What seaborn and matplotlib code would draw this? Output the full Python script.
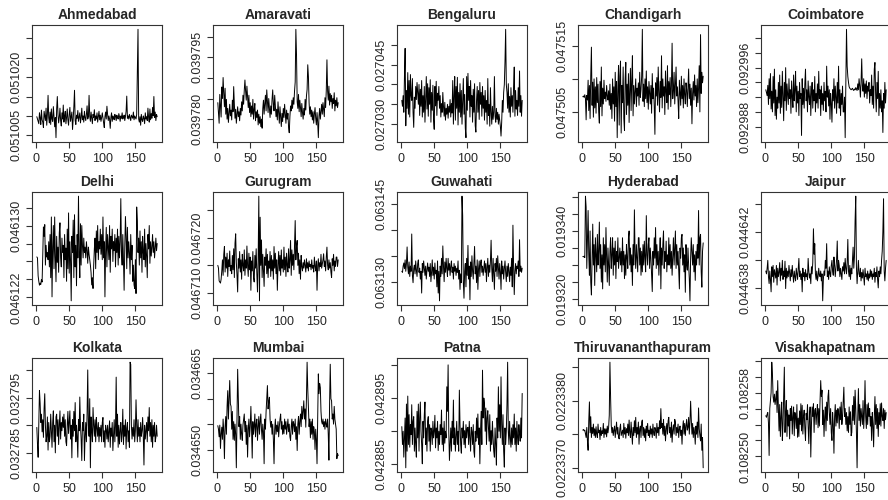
import numpy as np
import matplotlib.pyplot as plt
import seaborn as sns

# daily series per city (values in small units above a base)
ahmedabad = 0.051 + 1e-7 * np.array([
    98, 92, 85, 80, 108, 95, 78, 115, 90, 84, 70, 112, 100, 88, 120, 76, 104, 153, 95, 82,
    110, 78, 118, 92, 86, 124, 100, 72, 96, 44, 118, 150, 104, 82, 96, 120, 88, 74, 108, 92,
    128, 84, 100, 112, 80, 96, 118, 90, 76, 104, 122, 86, 98, 110, 65, 92, 124, 166, 88, 78,
    102, 94, 114, 86, 98, 108, 82, 96, 120, 90, 100, 84, 112, 96, 88, 104, 126, 92, 98, 153,
    100, 86, 110, 94, 80, 104, 96, 116, 88, 100, 92, 108, 84, 98, 112, 90, 102, 86, 96, 108,
    94, 82, 70, 98, 110, 92, 125, 104, 88, 100, 92, 68, 96, 108, 86, 100, 94, 90, 104, 98,
    88, 102, 96, 92, 106, 98, 86, 100, 94, 108, 92, 96, 102, 88, 98, 112, 151, 94, 100, 92,
    104, 96, 88, 102, 98, 94, 110, 90, 100, 96, 92, 104, 218, 323, 92, 84, 98, 76, 104, 90,
    86, 100, 94, 80, 108, 92, 98, 88, 120, 96, 84, 118, 90, 106, 94, 122, 100, 150, 96, 110,
    88, 104, 98])

amaravati = 0.0397 + 1e-7 * np.array([
    840, 815, 790, 860, 832, 805, 878, 850, 901, 862, 830, 875, 812, 848, 800, 826, 792, 814, 836, 808,
    822, 798, 846, 818, 879, 836, 802, 824, 790, 812, 830, 806, 818, 796, 826, 810, 842, 820, 858, 836,
    870, 895, 868, 846, 880, 852, 828, 858, 816, 840, 806, 832, 812, 848, 800, 824, 838, 796, 818, 804,
    822, 786, 812, 790, 806, 782, 800, 778, 826, 846, 812, 838, 858, 820, 871, 842, 816, 850, 826, 804,
    832, 812, 848, 871, 836, 820, 858, 830, 806, 824, 798, 842, 816, 790, 830, 806, 782, 814, 794, 826,
    804, 836, 812, 790, 822, 800, 814, 780, 767, 806, 832, 820, 846, 826, 852, 836, 868, 890, 1018, 956,
    842, 826, 860, 818, 846, 828, 806, 838, 816, 800, 826, 810, 848, 822, 856, 872, 932, 903, 840, 812,
    830, 806, 822, 798, 818, 790, 812, 828, 802, 786, 816, 792, 755, 808, 826, 800, 818, 836, 812, 840,
    822, 806, 852, 828, 870, 944, 868, 846, 880, 834, 862, 842, 858, 826, 850, 838, 864, 820, 846, 832,
    852, 828, 840])

bengaluru = 0.027 + 1e-7 * np.array([
    360, 345, 372, 330, 420, 491, 296, 385, 340, 430, 325, 410, 318, 425, 372, 360, 415, 330, 292, 368,
    340, 395, 362, 405, 380, 350, 400, 322, 388, 345, 410, 318, 372, 330, 395, 305, 360, 420, 338, 402,
    320, 392, 350, 412, 305, 380, 335, 398, 312, 287, 395, 346, 408, 322, 378, 360, 395, 340, 372, 318,
    352, 330, 380, 345, 320, 355, 310, 340, 325, 350, 315, 345, 330, 362, 318, 352, 328, 410, 300, 372,
    420, 310, 395, 340, 418, 298, 380, 330, 402, 318, 385, 300, 360, 415, 325, 375, 290, 266, 420, 335,
    428, 360, 395, 318, 410, 345, 372, 305, 388, 330, 402, 296, 280, 360, 395, 330, 385, 312, 405, 350,
    380, 320, 395, 340, 372, 310, 385, 330, 360, 300, 415, 322, 350, 295, 392, 330, 300, 345, 312, 330,
    420, 320, 305, 340, 312, 330, 300, 325, 310, 295, 270, 305, 360, 330, 380, 400, 457, 539, 400, 380,
    340, 402, 330, 370, 318, 392, 345, 372, 330, 395, 444, 320, 385, 338, 360, 322, 392, 345, 434, 330,
    372, 320, 360])

chandigarh = 0.0475 + 1e-7 * np.array([
    73, 74, 72, 76, 70, 38, 75, 68, 98, 52, 90, 40, 105, 148, 60, 95, 42, 100, 56, 88,
    48, 102, 64, 92, 50, 33, 96, 58, 118, 44, 86, 62, 98, 70, 80, 66, 90, 74, 68, 82,
    60, 92, 54, 78, 40, 100, 62, 88, 36, 110, 58, 96, 11, 84, 120, 30, 104, 127, 18, 90,
    64, 118, 40, 22, 100, 125, 46, 92, 60, 108, 34, 82, 116, 52, 98, 135, 44, 90, 62, 80,
    100, 58, 86, 74, 94, 60, 110, 72, 84, 104, 175, 66, 92, 58, 100, 70, 112, 64, 88, 54,
    96, 78, 62, 90, 48, 108, 70, 86, 58, 16, 94, 74, 102, 60, 118, 80, 50, 96, 72, 135,
    56, 100, 74, 88, 46, 112, 80, 64, 120, 54, 96, 76, 102, 58, 90, 154, 70, 84, 110, 62,
    92, 118, 74, 88, 66, 40, 98, 80, 60, 104, 70, 90, 56, 100, 76, 62, 94, 84, 58, 88,
    115, 70, 92, 60, 86, 32, 78, 96, 68, 106, 74, 90, 58, 100, 64, 86, 120, 50, 167, 78,
    110, 94, 104])

coimbatore = 0.0929 + 1e-7 * np.array([
    930, 926, 922, 936, 910, 945, 918, 952, 904, 928, 900, 948, 912, 958, 895, 930, 890, 920, 905, 940,
    912, 950, 898, 935, 906, 955, 920, 888, 940, 915, 960, 902, 938, 925, 910, 945, 918, 930, 898, 942,
    920, 906, 950, 915, 930, 955, 900, 935, 912, 928, 895, 940, 918, 925, 868, 945, 910, 932, 905, 938,
    958, 915, 930, 900, 942, 920, 910, 935, 895, 925, 940, 905, 930, 915, 948, 900, 925, 912, 938, 905,
    955, 918, 930, 895, 935, 910, 925, 902, 940, 915, 928, 900, 962, 920, 935, 908, 930, 890, 925, 912,
    886, 930, 915, 945, 905, 935, 920, 898, 940, 912, 962, 905, 930, 895, 925, 910, 935, 900, 900, 920,
    865, 935, 1012, 962, 948, 940, 934, 932, 931, 930, 931, 932, 930, 929, 931, 930, 933, 931, 929, 938,
    930, 945, 935, 920, 940, 972, 935, 928, 945, 920, 938, 925, 942, 918, 935, 928, 940, 912, 930, 922,
    950, 910, 935, 905, 958, 967, 925, 900, 940, 918, 955, 895, 925, 905, 930, 900, 915, 872, 925, 905,
    940, 912, 930])

delhi = 0.04612 + 1e-8 * np.array([
    651, 640, 440, 380, 337, 360, 345, 400, 372, 700, 984, 880, 1010, 560, 780, 650, 700, 620, 820, 540,
    900, 420, 1095, 207, 760, 1000, 520, 1095, 660, 375, 880, 590, 760, 480, 920, 1030, 640, 540, 860, 700,
    780, 420, 900, 620, 750, 380, 960, 520, 1140, 470, 820, 600, 163, 880, 700, 1060, 420, 1120, 540, 780,
    330, 900, 640, 1326, 700, 420, 1020, 560, 1000, 780, 640, 860, 700, 760, 640, 820, 720, 580, 760, 680,
    620, 560, 480, 340, 420, 300, 560, 740, 860, 520, 940, 700, 1000, 620, 820, 740, 960, 680, 900, 620,
    1095, 640, 820, 207, 700, 980, 540, 900, 760, 620, 1000, 480, 880, 740, 960, 600, 820, 720, 900, 540,
    860, 700, 960, 560, 880, 640, 820, 1299, 700, 560, 900, 620, 280, 760, 1100, 880, 520, 980, 640, 820,
    700, 460, 900, 620, 780, 380, 560, 340, 300, 620, 244, 1206, 1050, 700, 860, 560, 940, 640, 820, 480,
    880, 700, 620, 960, 540, 800, 660, 420, 900, 740, 1000, 580, 820, 660, 760, 900, 700, 820, 640, 760,
    860, 720, 800])

gurugram = 0.0467 + 1e-7 * np.array([
    150, 145, 122, 120, 118, 125, 140, 160, 132, 170, 184, 138, 165, 145, 172, 130, 160, 148, 176, 140,
    150, 135, 168, 142, 180, 128, 190, 207, 155, 132, 102, 162, 145, 175, 138, 160, 125, 170, 150, 140,
    178, 132, 160, 145, 185, 150, 130, 172, 142, 165, 105, 158, 140, 175, 128, 120, 168, 145, 180, 135,
    102, 160, 275, 86, 237, 150, 196, 128, 170, 140, 112, 165, 150, 180, 135, 170, 128, 158, 145, 175,
    130, 168, 140, 160, 125, 184, 145, 172, 135, 160, 105, 150, 175, 140, 168, 132, 178, 145, 160, 138,
    183, 142, 165, 130, 172, 150, 138, 180, 145, 160, 195, 132, 178, 150, 170, 142, 188, 231, 160, 185,
    195, 150, 172, 135, 160, 125, 168, 148, 140, 155, 145, 160, 150, 138, 162, 145, 155, 140, 158, 148,
    152, 142, 160, 145, 150, 138, 165, 148, 140, 158, 105, 150, 162, 140, 155, 148, 170, 145, 152, 160,
    171, 148, 158, 140, 165, 183, 150, 142, 160, 145, 155, 138, 128, 162, 150, 170, 140, 158, 148, 165,
    165, 148, 160])

guwahati = 0.0631 + 1e-7 * np.array([
    320, 318, 330, 336, 325, 342, 320, 335, 367, 328, 315, 338, 310, 330, 320, 392, 312, 298, 325, 332,
    315, 340, 322, 310, 335, 342, 318, 326, 305, 320, 278, 335, 318, 340, 325, 312, 330, 305, 322, 336,
    320, 328, 310, 335, 300, 318, 342, 312, 328, 305, 336, 315, 322, 290, 340, 278, 320, 263, 330, 310,
    345, 315, 369, 330, 300, 338, 318, 345, 325, 310, 345, 322, 335, 312, 330, 340, 318, 328, 305, 335,
    320, 330, 312, 326, 318, 340, 305, 322, 285, 315, 298, 465, 428, 300, 268, 320, 335, 290, 345, 312,
    370, 305, 330, 265, 338, 310, 350, 320, 305, 335, 368, 315, 330, 298, 342, 285, 325, 340, 310, 335,
    342, 318, 330, 312, 325, 340, 318, 335, 300, 328, 345, 310, 332, 318, 340, 380, 325, 300, 345, 315,
    285, 335, 320, 345, 310, 350, 328, 305, 335, 320, 285, 340, 315, 330, 305, 325, 340, 318, 300, 330,
    310, 335, 320, 300, 328, 312, 345, 290, 409, 330, 275, 320, 335, 315, 330, 325, 340, 310, 381, 320,
    330, 318, 326])

hyderabad = 0.0193 + 1e-7 * np.array([
    325, 324, 326, 322, 502, 470, 290, 380, 460, 330, 270, 400, 250, 212, 320, 420, 300, 360, 240, 380,
    330, 280, 390, 300, 340, 426, 290, 360, 250, 330, 230, 380, 300, 360, 280, 410, 320, 250, 350, 300,
    240, 340, 380, 290, 330, 380, 270, 350, 300, 370, 260, 340, 310, 380, 290, 320, 350, 300, 340, 280,
    380, 300, 340, 260, 330, 270, 360, 320, 290, 380, 400, 300, 350, 280, 330, 240, 360, 300, 462, 330,
    290, 360, 320, 280, 380, 380, 300, 350, 270, 340, 280, 360, 300, 370, 320, 280, 445, 330, 300, 360,
    380, 290, 350, 320, 270, 222, 340, 300, 380, 320, 410, 290, 360, 300, 340, 270, 320, 380, 230, 350,
    300, 360, 400, 290, 340, 310, 370, 280, 330, 300, 380, 300, 360, 290, 340, 270, 330, 380, 300, 350,
    400, 290, 360, 300, 340, 280, 230, 350, 320, 380, 390, 300, 350, 280, 330, 220, 360, 300, 285, 350,
    300, 260, 195, 320, 380, 340, 300, 360, 280, 330, 255, 340, 300, 360, 320, 460, 300, 380, 390, 280,
    235, 340, 365])

jaipur = 0.04463 + 1e-8 * np.array([
    920, 900, 940, 996, 880, 831, 920, 860, 772, 950, 880, 960, 840, 930, 900, 870, 960, 820, 940, 880,
    910, 980, 850, 940, 890, 996, 860, 920, 880, 990, 795, 940, 870, 920, 880, 960, 900, 850, 930, 880,
    960, 890, 840, 920, 880, 850, 940, 900, 860, 930, 1010, 880, 920, 860, 900, 772, 940, 880, 910, 850,
    930, 880, 900, 860, 1010, 920, 870, 900, 830, 950, 900, 980, 1221, 1040, 1115, 900, 860, 920, 850, 880,
    940, 890, 880, 920, 850, 900, 708, 860, 920, 890, 996, 940, 1115, 880, 920, 860, 950, 900, 880, 960,
    996, 920, 890, 1020, 960, 880, 940, 1000, 1134, 920, 996, 960, 880, 940, 900, 860, 950, 920, 980, 900,
    1010, 940, 900, 980, 1145, 920, 880, 960, 860, 940, 900, 1000, 1090, 940, 1020, 1280, 1453, 950, 830, 920,
    996, 900, 880, 940, 850, 910, 870, 930, 880, 820, 940, 880, 900, 860, 920, 850, 900, 870, 930, 880,
    920, 860, 900, 880, 940, 840, 910, 880, 950, 860, 800, 920, 880, 950, 900, 996, 1060, 1200, 1434, 920,
    850, 940, 996])

kolkata = 0.0327 + 1e-7 * np.array([
    896, 866, 842, 900, 963, 940, 905, 920, 888, 910, 878, 930, 957, 900, 870, 880, 915, 855, 905, 870,
    880, 920, 890, 860, 905, 926, 870, 900, 850, 915, 920, 880, 910, 865, 900, 926, 875, 905, 890, 915,
    896, 920, 880, 910, 870, 863, 900, 925, 885, 905, 926, 875, 900, 841, 910, 880, 925, 890, 941, 870,
    900, 880, 842, 910, 890, 951, 900, 875, 836, 905, 890, 920, 836, 880, 905, 870, 920, 1000, 900, 880,
    948, 823, 915, 890, 870, 932, 900, 880, 910, 870, 914, 895, 880, 905, 870, 896, 880, 900, 870, 905,
    914, 870, 890, 860, 900, 892, 875, 900, 870, 890, 908, 860, 895, 880, 905, 854, 880, 910, 870, 900,
    987, 880, 920, 860, 900, 866, 890, 905, 870, 885, 929, 865, 900, 880, 910, 857, 895, 905, 870, 890,
    860, 1014, 1010, 900, 875, 896, 880, 910, 870, 890, 946, 900, 870, 910, 880, 896, 870, 905, 880, 890,
    914, 880, 828, 900, 875, 890, 905, 870, 915, 890, 932, 880, 905, 870, 910, 860, 900, 880, 905, 870,
    878, 900, 880])

mumbai = 0.0346 + 1e-7 * np.array([
    547, 540, 525, 548, 502, 530, 544, 520, 560, 535, 482, 545, 565, 530, 585, 616, 560, 600, 636, 590,
    585, 540, 575, 520, 555, 518, 550, 530, 464, 560, 658, 600, 545, 565, 520, 550, 530, 518, 548, 560,
    570, 535, 555, 510, 548, 485, 540, 560, 525, 545, 585, 540, 483, 555, 530, 544, 570, 525, 550, 560,
    518, 545, 565, 530, 555, 570, 540, 520, 550, 535, 472, 560, 540, 575, 600, 626, 580, 595, 603, 560,
    544, 555, 530, 550, 520, 472, 540, 560, 530, 548, 535, 555, 525, 545, 560, 570, 540, 555, 530, 548,
    531, 560, 540, 555, 530, 544, 560, 535, 550, 525, 518, 545, 560, 530, 555, 550, 535, 560, 520, 545,
    498, 550, 565, 530, 555, 570, 545, 585, 560, 575, 596, 560, 580, 544, 600, 672, 620, 580, 545, 560,
    523, 555, 530, 560, 520, 545, 535, 500, 540, 520, 472, 560, 649, 610, 630, 622, 575, 555, 550, 560,
    545, 555, 540, 560, 550, 544, 560, 530, 479, 590, 668, 600, 596, 560, 570, 550, 585, 560, 550, 540,
    482, 492, 488])

patna = 0.0428 + 1e-7 * np.array([
    907, 880, 900, 861, 890, 920, 845, 941, 870, 953, 880, 925, 876, 910, 895, 940, 880, 915, 922, 870,
    905, 880, 861, 930, 890, 941, 870, 920, 944, 900, 880, 851, 915, 890, 925, 944, 880, 905, 870, 915,
    922, 885, 910, 870, 905, 901, 880, 915, 890, 900, 924, 875, 905, 890, 915, 871, 900, 880, 910, 895,
    932, 880, 905, 870, 915, 882, 900, 890, 967, 930, 1000, 900, 856, 880, 905, 870, 915, 890, 947, 880,
    905, 870, 892, 915, 880, 900, 870, 962, 910, 880, 867, 905, 890, 915, 880, 901, 875, 910, 890, 905,
    906, 880, 915, 890, 870, 906, 900, 880, 910, 870, 861, 900, 885, 920, 890, 926, 880, 905, 851, 900,
    930, 880, 992, 920, 950, 941, 900, 935, 880, 920, 931, 905, 885, 925, 870, 901, 880, 915, 890, 870,
    861, 905, 880, 849, 920, 890, 967, 900, 940, 890, 982, 910, 880, 925, 870, 846, 905, 880, 901, 940,
    1004, 900, 880, 915, 890, 876, 905, 880, 910, 890, 926, 880, 905, 870, 915, 891, 880, 910, 896, 885,
    920, 890, 957])

thiruvananthapuram = 0.02233 + 1e-8 * np.array([
    756, 757, 755, 756, 750, 745, 760, 740, 726, 770, 798, 752, 776, 745, 760, 751, 765, 748, 758, 745,
    761, 750, 745, 765, 752, 756, 742, 760, 748, 755, 751, 766, 745, 758, 750, 758, 746, 762, 752, 760,
    778, 857, 805, 763, 752, 760, 748, 756, 762, 745, 756, 768, 750, 760, 745, 743, 758, 765, 748, 752,
    756, 745, 766, 750, 760, 744, 758, 752, 765, 748, 771, 752, 745, 768, 750, 735, 760, 748, 770, 752,
    775, 745, 760, 750, 768, 735, 758, 762, 745, 768, 771, 748, 760, 745, 758, 740, 762, 752, 766, 748,
    756, 745, 762, 750, 758, 745, 765, 752, 748, 760, 756, 744, 766, 752, 760, 748, 770, 758, 788, 760,
    766, 750, 772, 748, 762, 740, 758, 766, 750, 770, 775, 752, 760, 745, 768, 738, 756, 764, 750, 772,
    768, 748, 760, 752, 765, 745, 758, 762, 748, 756, 735, 760, 770, 750, 766, 748, 762, 772, 756, 760,
    775, 750, 768, 799, 772, 750, 766, 745, 760, 752, 735, 762, 750, 768, 745, 789, 758, 748, 740, 765,
    726, 745, 700])

visakhapatnam = 0.108245 + 1e-8 * np.array([
    1010, 990, 1030, 1050, 920, 512, 1100, 1200, 1300, 1680, 1540, 1250, 1180, 1280, 1150, 1220, 1320, 1050, 1450, 1100,
    820, 1150, 750, 1000, 1180, 700, 900, 1250, 1618, 800, 1040, 1200, 750, 1080, 880, 1020, 720, 1100, 950, 1130,
    780, 1000, 1120, 760, 1050, 1000, 850, 1150, 740, 980, 750, 1070, 900, 1160, 820, 1140, 780, 1000, 1080, 850,
    700, 1040, 960, 1150, 880, 660, 1000, 1120, 492, 900, 1120, 1000, 1160, 800, 1080, 1100, 900, 1040, 1150, 860,
    1100, 880, 1200, 1450, 1250, 1330, 900, 1080, 750, 1000, 1120, 820, 1180, 950, 1250, 1330, 1050, 900, 1100, 800,
    700, 1050, 900, 540, 1000, 1150, 880, 1080, 920, 1100, 1040, 850, 1120, 960, 1180, 900, 1000, 1200, 1367, 1000,
    1100, 900, 1050, 820, 1000, 800, 1120, 900, 1060, 760, 800, 1140, 950, 1250, 900, 1330, 1100, 800, 358, 1000,
    1350, 950, 1150, 880, 1100, 1000, 900, 1200, 850, 1050, 1450, 1000, 850, 1150, 900, 1170, 1000, 1100, 880, 1000,
    700, 1050, 900, 620, 1000, 1250, 900, 1150, 850, 1100, 750, 1050, 900, 1160, 880, 1170, 1000, 950, 1100, 850,
    1080, 960, 1050])

cities = ['Ahmedabad', 'Amaravati', 'Bengaluru', 'Chandigarh', 'Coimbatore',
          'Delhi', 'Gurugram', 'Guwahati', 'Hyderabad', 'Jaipur',
          'Kolkata', 'Mumbai', 'Patna', 'Thiruvananthapuram', 'Visakhapatnam']
series = [ahmedabad, amaravati, bengaluru, chandigarh, coimbatore,
          delhi, gurugram, guwahati, hyderabad, jaipur,
          kolkata, mumbai, patna, thiruvananthapuram, visakhapatnam]

# y tick values and the labels R kept (others dropped for overlap)
y_ticks = [
    ['0.051005', '0.051010', '0.051015', '0.051020', '0.051025', '0.051030'],
    ['0.039780', '0.039785', '0.039790', '0.039795', '0.039800'],
    ['0.027030', '0.027035', '0.027040', '0.027045', '0.027050'],
    ['0.047505', '0.047510', '0.047515'],
    ['0.092988', '0.092990', '0.092992', '0.092994', '0.092996', '0.092998', '0.093000'],
    ['0.046122', '0.046124', '0.046126', '0.046128', '0.046130', '0.046132'],
    ['0.046710', '0.046715', '0.046720', '0.046725'],
    ['0.063130', '0.063135', '0.063140', '0.063145'],
    ['0.019320', '0.019325', '0.019330', '0.019335', '0.019340', '0.019345', '0.019350'],
    ['0.044638', '0.044640', '0.044642', '0.044644'],
    ['0.032785', '0.032790', '0.032795', '0.032800'],
    ['0.034650', '0.034655', '0.034660', '0.034665'],
    ['0.042885', '0.042890', '0.042895', '0.042900'],
    ['0.0223370', '0.0223375', '0.0223380', '0.0223385'],
    ['0.108250', '0.108252', '0.108254', '0.108256', '0.108258', '0.108260', '0.108262'],
]
label_every = [3, 3, 3, 2, 4, 4, 2, 3, 4, 2, 2, 3, 2, 2, 4]
x_ticks = [0, 50, 100, 150]

sns.set_style('white')
plt.rcParams['font.family'] = ['Liberation Sans', 'DejaVu Sans']
ink = '#262626'

fig = plt.figure(figsize=(8.88, 5.0), dpi=100)
W, H = 888, 500
lefts = [32, 213, 397, 578, 761]
tops = [25, 192, 358]
heights = [117, 113, 114]
width = 130

for i, (city, y) in enumerate(zip(cities, series)):
    r, c = divmod(i, 5)
    ax = fig.add_axes([lefts[c] / W, 1 - (tops[r] + heights[r]) / H,
                       width / W, heights[r] / H])
    x = np.arange(1, len(y) + 1)
    sns.lineplot(x=x, y=y, ax=ax, color='black', linewidth=0.7)

    ax.set_xticks(x_ticks)
    ax.set_xticklabels([str(t) for t in x_ticks])
    tv = [float(t) for t in y_ticks[i]]
    labs = [t if k % label_every[i] == 0 else '' for k, t in enumerate(y_ticks[i])]
    ax.set_yticks(tv)
    ax.set_yticklabels(labs, rotation=90, va='center')
    # R-style 4% padding around the data range
    xpad = 0.04 * (x.max() - x.min())
    ypad = 0.04 * (y.max() - y.min())
    ax.set_xlim(x.min() - xpad, x.max() + xpad)
    ax.set_ylim(y.min() - ypad, y.max() + ypad)

    ax.set_xlabel('')
    ax.set_ylabel('')
    ax.set_title(city, fontsize=10, fontweight='bold', color=ink, pad=4)
    for s in ax.spines.values():
        s.set_color('#333333')
        s.set_linewidth(0.8)
    ax.tick_params(axis='both', direction='out', length=4, width=0.8,
                   color='#333333', labelsize=9, labelcolor=ink,
                   left=True, bottom=True)
    ax.tick_params(axis='x', pad=4)
    ax.tick_params(axis='y', pad=2.5)

fig.savefig('out.png', dpi=100)
